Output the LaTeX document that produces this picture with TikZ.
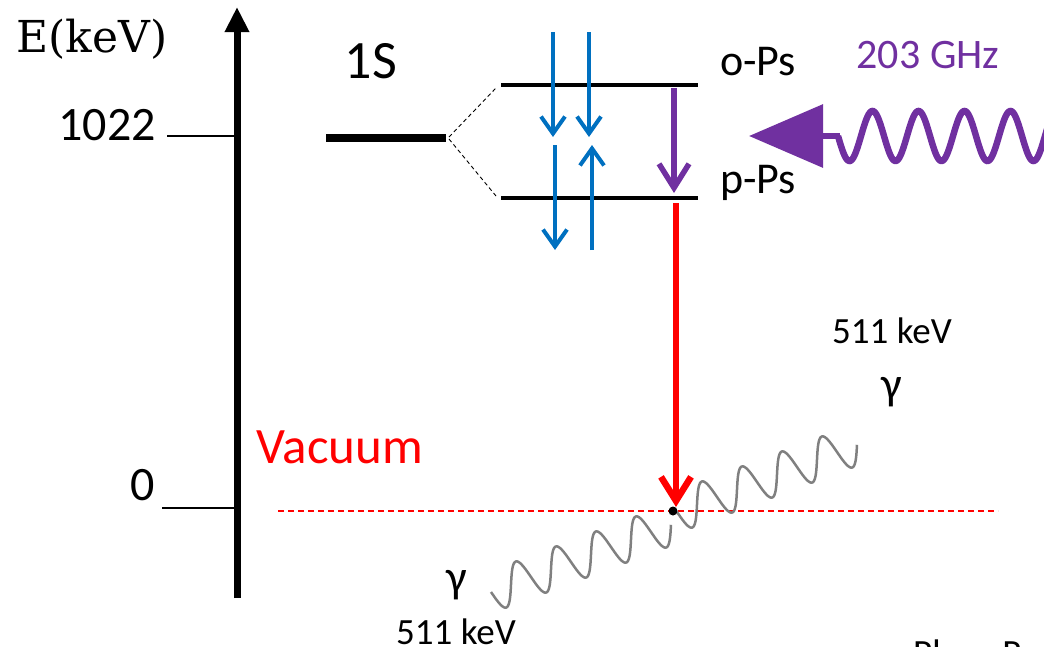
\documentclass[tikz,border=0pt]{standalone}
\usepackage{fontspec}
\newfontfamily\calfont{Carlito}
\newfontfamily\serfont{DejaVu Serif}
\usetikzlibrary{arrows.meta}
\definecolor{ablue}{HTML}{0070C0}
\definecolor{apurple}{HTML}{7030A0}
\definecolor{agray}{HTML}{808080}
\tikzset{
  lbl/.style={font=\calfont\fontsize{#1}{#1}\selectfont, anchor=base, inner sep=0pt},
  level/.style={line width=4pt},
  tick/.style={line width=1.5pt},
  split/.style={line width=0.9pt, dash pattern=on 4pt off 3pt},
  barrow/.style={ablue, line width=4pt, -{Straight Barb[length=17pt,width=24pt]}},
  parrow/.style={apurple, line width=5.5pt, -{Straight Barb[length=24pt,width=30pt]}},
  rarrow/.style={red, line width=6.5pt, -{Straight Barb[length=24pt,width=30pt]}},
  gwave/.style={agray, line width=2.5pt},
}
\begin{document}
\begin{tikzpicture}[x=1pt,y=-1pt]
\useasboundingbox (0,0) rectangle (1044,646);
\clip (0,0) rectangle (1044,646);

% energy axis
\coordinate (axb) at (237,598);
\coordinate (axt) at (237,7);
\draw[line width=7pt, -{Triangle[length=25pt,width=23pt]}] (axb) -- (axt);
\node[font=\serfont\fontsize{44}{44}\selectfont, anchor=base, inner sep=0pt] (E) at (92,52) {E(keV)};

% ticks
\coordinate (t1a) at (167,136); \coordinate (t1b) at (237,136);
\coordinate (t0a) at (162,508); \coordinate (t0b) at (237,508);
\draw[tick] (t1a) -- (t1b);
\draw[tick] (t0a) -- (t0b);
\node[lbl=48] (n1022) at (107,140) {1022};
\node[lbl=48] (n0) at (143,500) {0};

% levels
\coordinate (sL) at (326,138); \coordinate (sR) at (446,138);
\coordinate (oL) at (501,85);  \coordinate (oR) at (698,85);
\coordinate (pL) at (501,198); \coordinate (pR) at (698,198);
\draw[line width=8pt] (sL) -- (sR);
\draw[level] (oL) -- (oR);
\draw[level] (pL) -- (pR);
\coordinate (d1) at (449,137); \coordinate (d1e) at (496,88);
\coordinate (d2) at (449,139); \coordinate (d2e) at (496,196);
\draw[split] (d1) -- (d1e);
\draw[split] (d2) -- (d2e);
\node[lbl=54] (n1S) at (371,78) {1S};
\node[lbl=44] (oPs) at (758,75) {o-Ps};
\node[lbl=44] (pPs) at (758,193) {p-Ps};

% blue transitions
\coordinate (b1s) at (553,32);  \coordinate (b1e) at (553,137);
\coordinate (b2s) at (589,32);  \coordinate (b2e) at (589,137);
\coordinate (b3s) at (555,145); \coordinate (b3e) at (555,250);
\coordinate (b4s) at (592,250); \coordinate (b4e) at (592,145);
\draw[barrow] (b1s) -- (b1e);
\draw[barrow] (b2s) -- (b2e);
\draw[barrow] (b3s) -- (b3e);
\draw[barrow] (b4s) -- (b4e);

% purple transition
\coordinate (ps) at (674,88); \coordinate (pe) at (674,193);
\draw[parrow] (ps) -- (pe);

% red annihilation
\coordinate (rs) at (676,203); \coordinate (re) at (676,507);
\draw[rarrow] (rs) -- (re);

% vacuum line
\coordinate (vL) at (278,511); \coordinate (vR) at (998,511);
\draw[red, line width=1.2pt, dash pattern=on 6pt off 4pt] (vL) -- (vR);
\node[lbl=51, text=red] (vac) at (340,463) {Vacuum};

% gamma waves
\draw[gwave] plot[domain=0:4.5, samples=220, smooth]
  ({491+40*\x+5.25*sin(360*\x)},{592-15*\x+19.25*sin(360*\x)});
\draw[gwave] plot[domain=0:4.5, samples=220, smooth]
  ({677+40*\x+5.25*sin(360*\x)},{512-15*\x+19.25*sin(360*\x)});
\coordinate (dot) at (673,511);
\fill (dot) circle (4.5pt);
\node[lbl=46] (g1) at (457,592) {γ};
\node[lbl=46] (g2) at (892,399) {γ};
\node[lbl=37] (k1) at (892,343) {511 keV};
\node[lbl=37] (k2) at (456,644) {511 keV};

% microwave
\coordinate (mw) at (840,136); \coordinate (mwt) at (749,136);
\draw[apurple, line width=6.5pt, -{Triangle[length=74pt,width=62pt]}] (mw) -- (mwt);
\draw[apurple, line width=6.5pt] plot[domain=0:4.7, samples=240, smooth]
  ({838+46*\x},{136+25*sin(360*\x)});
\node[lbl=42, text=apurple] (ghz) at (928,68) {203 GHz};

% clipped reference text
\node[lbl=37, anchor=base west] (ref) at (913,665) {Phys. Rev. Lett.};
\end{tikzpicture}
\end{document}
